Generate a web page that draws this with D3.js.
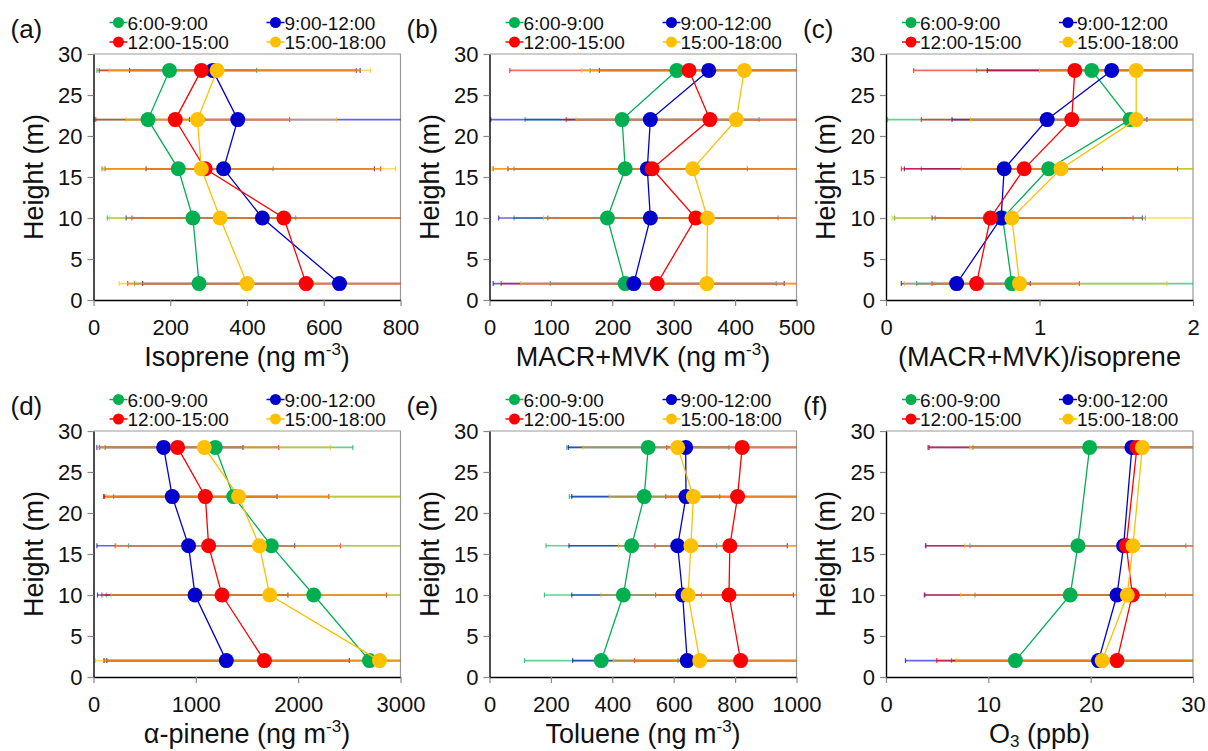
<!DOCTYPE html>
<html>
<head>
<meta charset="utf-8">
<title>Vertical profiles by period</title>
<script src="https://cdnjs.cloudflare.com/ajax/libs/d3/7.8.5/d3.min.js"></script>
<style>
  body { margin: 0; background: #fff; }
  svg text { font-family: "Liberation Sans", Arial, sans-serif; fill: #111; }
</style>
</head>
<body>
<div id="chart"></div>
<script>
// sampling heights (m); rows of every array below follow periods, columns follow heights
const heights = [2, 10, 16, 22, 28];
const periods = ["6:00-9:00", "9:00-12:00", "12:00-15:00", "15:00-18:00"];
const colors = ["#00B050", "#0000CC", "#FF0000", "#FFC000"];
const yTicks = [0, 5, 10, 15, 20, 25, 30];

// (a) isoprene, ng m-3
const isoMean = [[275, 259, 221, 142, 198], [641, 440, 339, 376, 311], [554, 496, 291, 213, 281], [400, 330, 281, 271, 322]];
const isoLow  = [[107, 36, 22, 2, 9], [128, 85, 137, 250, 94], [89, 100, 30, 6, 15], [67, 42, 25, 85, 41]];
const isoHigh = [[572, 527, 468, 290, 425], [1100, 850, 732, 900, 695], [1000, 920, 748, 511, 685], [900, 900, 787, 633, 722]];
const isoTicks = [0, 200, 400, 600, 800];

// (b) MACR+MVK, ng m-3
const mvkMean = [[221, 192, 221, 216, 305], [235, 262, 257, 262, 357], [273, 336, 265, 359, 325], [354, 355, 331, 402, 415]];
const mvkLow  = [[99, 40, 40, 58, 164], [6, 15, 30, 2, 179], [19, 95, 6, 125, 33], [51, 88, 4, 141, 150]];
const mvkHigh = [[467, 470, 420, 439, 520], [480, 520, 550, 560, 560], [540, 600, 600, 600, 620], [660, 650, 700, 700, 700]];
const mvkTicks = [0, 100, 200, 300, 400, 500];

// (c) (MACR+MVK)/isoprene
const ratioMean = [[0.82, 0.76, 1.06, 1.59, 1.34], [0.46, 0.75, 0.77, 1.05, 1.47], [0.59, 0.68, 0.9, 1.21, 1.23], [0.87, 0.82, 1.14, 1.63, 1.63]];
const ratioLow  = [[0.2, 0.055, 0.23, 0.01, 0.59], [0.1, 0.3, 0.12, 0.43, 0.66], [0.3, 0.32, 0.1, 0.23, 0.18], [0.12, 0.04, 0.49, 0.55, 1.0]];
const ratioHigh = [[2.3, 1.69, 2.2, 3.2, 2.1], [0.94, 1.67, 1.41, 1.7, 2.3], [1.26, 1.61, 1.9, 2.2, 2.3], [1.83, 2.5, 2.3, 2.7, 2.3]];
const ratioTicks = [0, 1, 2];

// (d) alpha-pinene, ng m-3
const pineneMean = [[2697, 2152, 1738, 1370, 1190], [1298, 992, 929, 770, 685], [1670, 1256, 1125, 1093, 822], [2795, 1722, 1621, 1418, 1083]];
const pineneLow  = [[100, 124, 342, 196, 114], [130, 39, 33, 100, 33], [105, 82, 212, 105, 59], [17, 173, 220, 124, 40]];
const pineneHigh = [[5000, 3500, 3200, 3200, 2534], [2500, 1900, 1966, 1794, 1461], [3300, 2863, 2413, 2299, 1810], [5000, 3300, 3100, 3100, 2315]];
const pineneTicks = [0, 1000, 2000, 3000];

// (e) toluene, ng m-3
const tolMean = [[364, 436, 463, 504, 517], [644, 629, 613, 640, 639], [818, 780, 783, 808, 823], [685, 647, 656, 664, 613]];
const tolLow  = [[114, 179, 184, 260, 252], [271, 268, 259, 268, 257], [472, 541, 539, 574, 577], [403, 363, 420, 390, 304]];
const tolHigh = [[614, 690, 740, 750, 780], [1017, 990, 970, 1010, 1020], [1160, 1020, 1030, 1040, 1070], [1200, 1100, 1100, 1100, 1100]];
const tolTicks = [0, 200, 400, 600, 800, 1000];

// (f) O3, ppb (no 22 m level)
const o3Mean = [[12.65, 18.0, 18.75, null, 19.9], [20.77, 22.57, 23.22, null, 24.03], [22.57, 24.07, 23.48, null, 24.52], [21.13, 23.58, 24.13, null, 25.05]];
const o3Low  = [[6.4, 8.7, 8.2, null, 8.5], [1.9, 3.75, 3.9, null, 4.2], [4.95, 3.8, 3.85, null, 4.1], [6.85, 7.3, 7.7, null, 8.2]];
const o3High = [[32, 27.3, 29.3, null, 31.3], [39.6, 41.4, 42.5, null, 43.9], [40.2, 44.3, 43.1, null, 44.9], [35.4, 39.9, 40.6, null, 41.9]];
const o3Ticks = [0, 10, 20, 30];

const panels = [
  { tag: "(a)", mean: isoMean, low: isoLow, high: isoHigh, ticks: isoTicks, title: [["Isoprene (ng m"], ["-3", "sup"], [")"]] },
  { tag: "(b)", mean: mvkMean, low: mvkLow, high: mvkHigh, ticks: mvkTicks, title: [["MACR+MVK (ng m"], ["-3", "sup"], [")"]] },
  { tag: "(c)", mean: ratioMean, low: ratioLow, high: ratioHigh, ticks: ratioTicks, title: [["(MACR+MVK)/isoprene"]] },
  { tag: "(d)", mean: pineneMean, low: pineneLow, high: pineneHigh, ticks: pineneTicks, title: [["α-pinene (ng m"], ["-3", "sup"], [")"]] },
  { tag: "(e)", mean: tolMean, low: tolLow, high: tolHigh, ticks: tolTicks, title: [["Toluene (ng m"], ["-3", "sup"], [")"]] },
  { tag: "(f)", mean: o3Mean, low: o3Low, high: o3High, ticks: o3Ticks, title: [["O"], ["3", "sub"], [" (ppb)"]] }
];

const W = 1208, H = 751;
const colLeft = [93.5, 489.5, 886];
const rowTop = [54, 431];
const pw = 307, ph = 246;

const svg = d3.select("#chart").append("svg")
  .attr("width", W).attr("height", H);
svg.append("rect").attr("width", W).attr("height", H).attr("fill", "#fff");

panels.forEach((p, i) => {
  const left = colLeft[i % 3], top = rowTop[Math.floor(i / 3)];
  const xMax = p.ticks[p.ticks.length - 1];
  const x = d3.scaleLinear().domain([0, xMax]).range([0, pw]);
  const y = d3.scaleLinear().domain([0, 30]).range([ph, 0]);

  const g = svg.append("g").attr("transform", `translate(${left},${top})`);

  // plot-area border (top / right in grey)
  g.append("path")
    .attr("d", `M0,0H${pw}V${ph}`)
    .attr("fill", "none").attr("stroke", "#999").attr("stroke-width", 1.2);

  // error bars
  const eb = g.append("g");
  p.mean.forEach((row, s) => {
    row.forEach((m, k) => {
      if (m == null) return;
      const lo = p.low[s][k], hi = p.high[s][k];
      const yy = y(heights[k]);
      const c = colors[s];
      eb.append("line")
        .attr("x1", x(Math.max(lo, 0))).attr("x2", x(Math.min(hi, xMax)))
        .attr("y1", yy).attr("y2", yy)
        .attr("stroke", c).attr("stroke-width", 1.6).attr("stroke-opacity", 0.6);
      [lo, hi].forEach(v => {
        if (v < 0 || v > xMax) return;
        eb.append("line")
          .attr("x1", x(v)).attr("x2", x(v))
          .attr("y1", yy - 2.5).attr("y2", yy + 2.5)
          .attr("stroke", c).attr("stroke-width", 1.2).attr("stroke-opacity", 0.7);
      });
    });
  });

  // axes
  const xAxis = g.append("g")
    .attr("transform", `translate(0,${ph})`)
    .call(d3.axisBottom(x).tickValues(p.ticks).tickSize(6).tickSizeOuter(0).tickPadding(13)
      .tickFormat(d3.format("d")));
  const yAxis = g.append("g")
    .call(d3.axisLeft(y).tickValues(yTicks).tickSize(6).tickSizeOuter(0).tickPadding(5));
  [xAxis, yAxis].forEach(a => {
    a.select(".domain").attr("stroke", "#000").attr("stroke-width", 1.4);
    a.selectAll(".tick line").attr("stroke", "#888").attr("stroke-width", 1.2);
    a.selectAll(".tick text").attr("font-size", 22).attr("fill", "#111")
      .attr("font-family", '"Liberation Sans", Arial, sans-serif');
  });

  // series lines and markers
  const line = d3.line()
    .x(d => x(d.v)).y(d => y(d.h));
  p.mean.forEach((row, s) => {
    const pts = row.map((v, k) => ({ v: v, h: heights[k] })).filter(d => d.v != null);
    g.append("path").datum(pts)
      .attr("d", line)
      .attr("fill", "none").attr("stroke", colors[s]).attr("stroke-width", 1.3);
    g.selectAll(null).data(pts).enter().append("circle")
      .attr("cx", d => x(d.v)).attr("cy", d => y(d.h))
      .attr("r", 7.5).attr("fill", colors[s]);
  });

  // x title
  const xt = g.append("text")
    .attr("x", pw / 2).attr("y", ph + 66)
    .attr("text-anchor", "middle").attr("font-size", 27);
  p.title.forEach((part, j) => {
    const ts = xt.append("tspan").text(part[0]);
    const prev = p.title[j - 1];
    if (part[1] === "sup") ts.attr("font-size", 17).attr("dy", -11);
    else if (part[1] === "sub") ts.attr("font-size", 17).attr("dy", 4);
    else if (prev && prev[1] === "sup") ts.attr("dy", 11);
    else if (prev && prev[1] === "sub") ts.attr("dy", -4);
  });

  // y title
  g.append("text")
    .attr("transform", `translate(-51,${ph / 2}) rotate(-90)`)
    .attr("text-anchor", "middle").attr("font-size", 27)
    .text("Height (m)");

  // panel tag
  g.append("text")
    .attr("x", -83).attr("y", -16)
    .attr("font-size", 26).text(p.tag);

  // legend
  const legX = [25, 182], legY = [-31.5, -12];
  periods.forEach((name, s) => {
    const cx = legX[s % 2], cy = legY[Math.floor(s / 2)];
    const lg = g.append("g").attr("transform", `translate(${cx},${cy})`);
    lg.append("line").attr("x1", -9).attr("x2", 9)
      .attr("stroke", colors[s]).attr("stroke-width", 1.5);
    lg.append("circle").attr("r", 5.5).attr("fill", colors[s]);
    lg.append("text").attr("x", 9).attr("y", 7)
      .attr("font-size", 19).text(name);
  });
});
</script>
</body>
</html>
